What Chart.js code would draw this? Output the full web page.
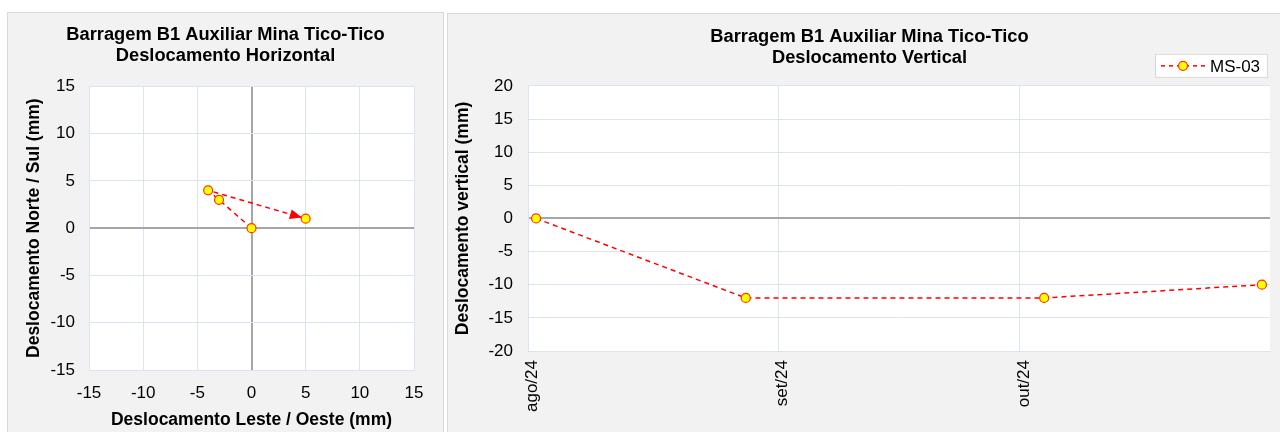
<!DOCTYPE html>
<html>
<head>
<meta charset="utf-8">
<script src="https://cdn.jsdelivr.net/npm/chart.js@4.4.1/dist/chart.umd.min.js"></script>
<style>
  body { margin: 0; background: #fff; width: 1280px; height: 432px; overflow: hidden; position: relative; }
  .panel { position: absolute; background: #f2f2f2; border: 1px solid #d9d9d9; box-sizing: border-box; }
  #p1 { left: 7px; top: 12px; width: 437px; height: 440px; }
  #p2 { left: 447px; top: 13px; width: 850px; height: 440px; }
  canvas { position: absolute; left: -1px; top: -1px; }
</style>
</head>
<body>
<div class="panel" id="p1"><canvas id="c1" width="437" height="420"></canvas></div>
<div class="panel" id="p2"><canvas id="c2" width="845" height="419"></canvas></div>
<script>
// horizontal displacement (mm)
const hLeste = [0, -3, -4, 5];
const hNorte = [0, 3, 4, 1];

// vertical displacement MS-03 (mm)
const vSeries = 'MS-03';
const vDates = ['2024-08-02', '2024-08-28', '2024-10-04', '2024-10-31'];
const vValues = [0, -12, -12, -10];

// month axis
const monthTicks = ['2024-08-01', '2024-09-01', '2024-10-01'];
const monthLabels = ['ago/24', 'set/24', 'out/24'];
const axisStart = '2024-08-01';
const axisEnd = '2024-11-01';

const titleTop = 'Barragem B1 Auxiliar Mina Tico-Tico';

Chart.defaults.font.family = "'Liberation Sans', Arial, sans-serif";
Chart.defaults.color = '#000';

const GRID = '#dbe5f1';
const ZERO = '#a6a6a6';
const RED = '#ff0000';

function dayOf(s) {
  return (Date.parse(s) - Date.parse(axisStart)) / 86400000;
}

const gridColor = ctx => (ctx.tick && ctx.tick.value === 0 ? ZERO : GRID);
const gridWidth = ctx => (ctx.tick && ctx.tick.value === 0 ? 2 : 1);

// empty axis on the right, only keeps a margin so the title stays centred on the panel
function spacer(w) {
  return {
    type: 'linear', position: 'right', display: true,
    ticks: { display: false },
    grid: { display: false },
    border: { display: false },
    afterFit(s) { s.width = w; }
  };
}

const plotBg = {
  id: 'plotBg',
  beforeDraw(chart) {
    const { ctx, chartArea: a } = chart;
    ctx.save();
    ctx.fillStyle = '#fff';
    ctx.fillRect(a.left, a.top, a.right - a.left, a.bottom - a.top);
    ctx.restore();
  }
};

// arrow head at the end of the horizontal path
const arrowHead = {
  id: 'arrowHead',
  beforeDatasetsDraw(chart) {
    const pts = chart.getDatasetMeta(0).data;
    if (pts.length < 2) return;
    const p1 = pts[pts.length - 2], p2 = pts[pts.length - 1];
    const dx = p2.x - p1.x, dy = p2.y - p1.y;
    const len = Math.sqrt(dx * dx + dy * dy);
    const ux = dx / len, uy = dy / len;
    const tx = p2.x - ux * 4, ty = p2.y - uy * 4;
    const bx = tx - ux * 12, by = ty - uy * 12;
    const ctx = chart.ctx;
    ctx.save();
    ctx.fillStyle = RED;
    ctx.beginPath();
    ctx.moveTo(tx, ty);
    ctx.lineTo(bx - uy * 5, by + ux * 5);
    ctx.lineTo(bx + uy * 5, by - ux * 5);
    ctx.closePath();
    ctx.fill();
    ctx.restore();
  }
};

// boxed legend above the top right corner of the plot
const boxLegend = {
  id: 'boxLegend',
  afterDraw(chart) {
    const { ctx, chartArea: a } = chart;
    const ds = chart.data.datasets[0];
    const w = 112, h = 23;
    const x = a.right - w - 3, y = a.top - h - 9;
    ctx.save();
    ctx.fillStyle = '#fff';
    ctx.strokeStyle = '#d9d9d9';
    ctx.lineWidth = 1;
    ctx.fillRect(x, y, w, h);
    ctx.strokeRect(x + 0.5, y + 0.5, w, h);
    const my = y + h / 2 + 0.5;
    ctx.strokeStyle = RED;
    ctx.lineWidth = 1.5;
    ctx.setLineDash([4, 4]);
    ctx.beginPath();
    ctx.moveTo(x + 6, my);
    ctx.lineTo(x + 50, my);
    ctx.stroke();
    ctx.setLineDash([]);
    ctx.fillStyle = ds.pointBackgroundColor;
    ctx.strokeStyle = ds.pointBorderColor;
    ctx.lineWidth = 1.2;
    ctx.beginPath();
    ctx.arc(x + 28, my, 4.5, 0, Math.PI * 2);
    ctx.fill();
    ctx.stroke();
    ctx.fillStyle = '#000';
    ctx.font = "17px 'Liberation Sans', Arial, sans-serif";
    ctx.textBaseline = 'middle';
    ctx.fillText(ds.label, x + 55, my + 1);
    ctx.restore();
  }
};

function pointStyle() {
  return {
    showLine: true,
    borderColor: RED,
    borderWidth: 1.5,
    borderDash: [5, 4],
    pointRadius: 4.5,
    pointBackgroundColor: '#ffff00',
    pointBorderColor: '#ff3300',
    pointBorderWidth: 1.2
  };
}

new Chart(document.getElementById('c1'), {
  type: 'scatter',
  data: {
    datasets: [Object.assign({
      label: 'H',
      data: hLeste.map((x, i) => ({ x, y: hNorte[i] }))
    }, pointStyle())]
  },
  options: {
    responsive: false,
    animation: false,
    layout: { padding: 0 },
    plugins: {
      legend: { display: false },
      tooltip: { enabled: false },
      title: {
        display: true,
        text: [titleTop, 'Deslocamento Horizontal'],
        font: { size: 18.3, weight: 'bold', lineHeight: 1.13 },
        color: '#000',
        padding: { top: 13, bottom: 20 }
      }
    },
    scales: {
      x: {
        type: 'linear', min: -15, max: 15,
        ticks: { stepSize: 5, font: { size: 17 }, padding: 13 },
        grid: { color: gridColor, lineWidth: gridWidth, drawTicks: false },
        border: { color: GRID },
        title: { display: true, text: 'Deslocamento Leste / Oeste (mm)', font: { size: 17.5, weight: 'bold' }, padding: { top: 0, bottom: 1 } },
        afterFit(s) { s.height = 62; }
      },
      y: {
        type: 'linear', min: -15, max: 15,
        ticks: { stepSize: 5, font: { size: 17 }, padding: 14 },
        grid: { color: gridColor, lineWidth: gridWidth, drawTicks: false },
        border: { color: GRID },
        title: { display: true, text: 'Deslocamento Norte / Sul (mm)', font: { size: 17.5, weight: 'bold' }, padding: { top: 16.5, bottom: 0 } },
        afterFit(s) { s.width = 82; }
      },
      pad: spacer(30)
    }
  },
  plugins: [plotBg, arrowHead]
});

const monthDays = monthTicks.map(dayOf);

new Chart(document.getElementById('c2'), {
  type: 'scatter',
  data: {
    datasets: [Object.assign({
      label: vSeries,
      data: vDates.map((d, i) => ({ x: dayOf(d), y: vValues[i] }))
    }, pointStyle())]
  },
  options: {
    responsive: false,
    animation: false,
    layout: { padding: 0 },
    plugins: {
      legend: { display: false },
      tooltip: { enabled: false },
      title: {
        display: true,
        text: [titleTop, 'Deslocamento Vertical'],
        font: { size: 18.3, weight: 'bold', lineHeight: 1.13 },
        color: '#000',
        padding: { top: 13.5, bottom: 18 }
      }
    },
    scales: {
      x: {
        type: 'linear', min: dayOf(axisStart), max: dayOf(axisEnd),
        afterBuildTicks(s) { s.ticks = monthDays.map(v => ({ value: v })); },
        ticks: {
          autoSkip: false, minRotation: 90, maxRotation: 90,
          font: { size: 17 }, padding: 9, labelOffset: 4,
          callback: v => monthLabels[monthDays.indexOf(v)]
        },
        grid: { color: GRID, drawTicks: false },
        border: { color: GRID },
        afterFit(s) { s.height = 81; }
      },
      y: {
        type: 'linear', min: -20, max: 20,
        ticks: { stepSize: 5, font: { size: 17 }, padding: 15 },
        grid: { color: gridColor, lineWidth: gridWidth, drawTicks: false },
        border: { color: GRID },
        title: { display: true, text: 'Deslocamento vertical (mm)', font: { size: 17.5, weight: 'bold' }, padding: { top: 5.5, bottom: 0 } },
        afterFit(s) { s.width = 81; }
      },
      pad: spacer(22)
    }
  },
  plugins: [plotBg, boxLegend]
});
</script>
</body>
</html>
